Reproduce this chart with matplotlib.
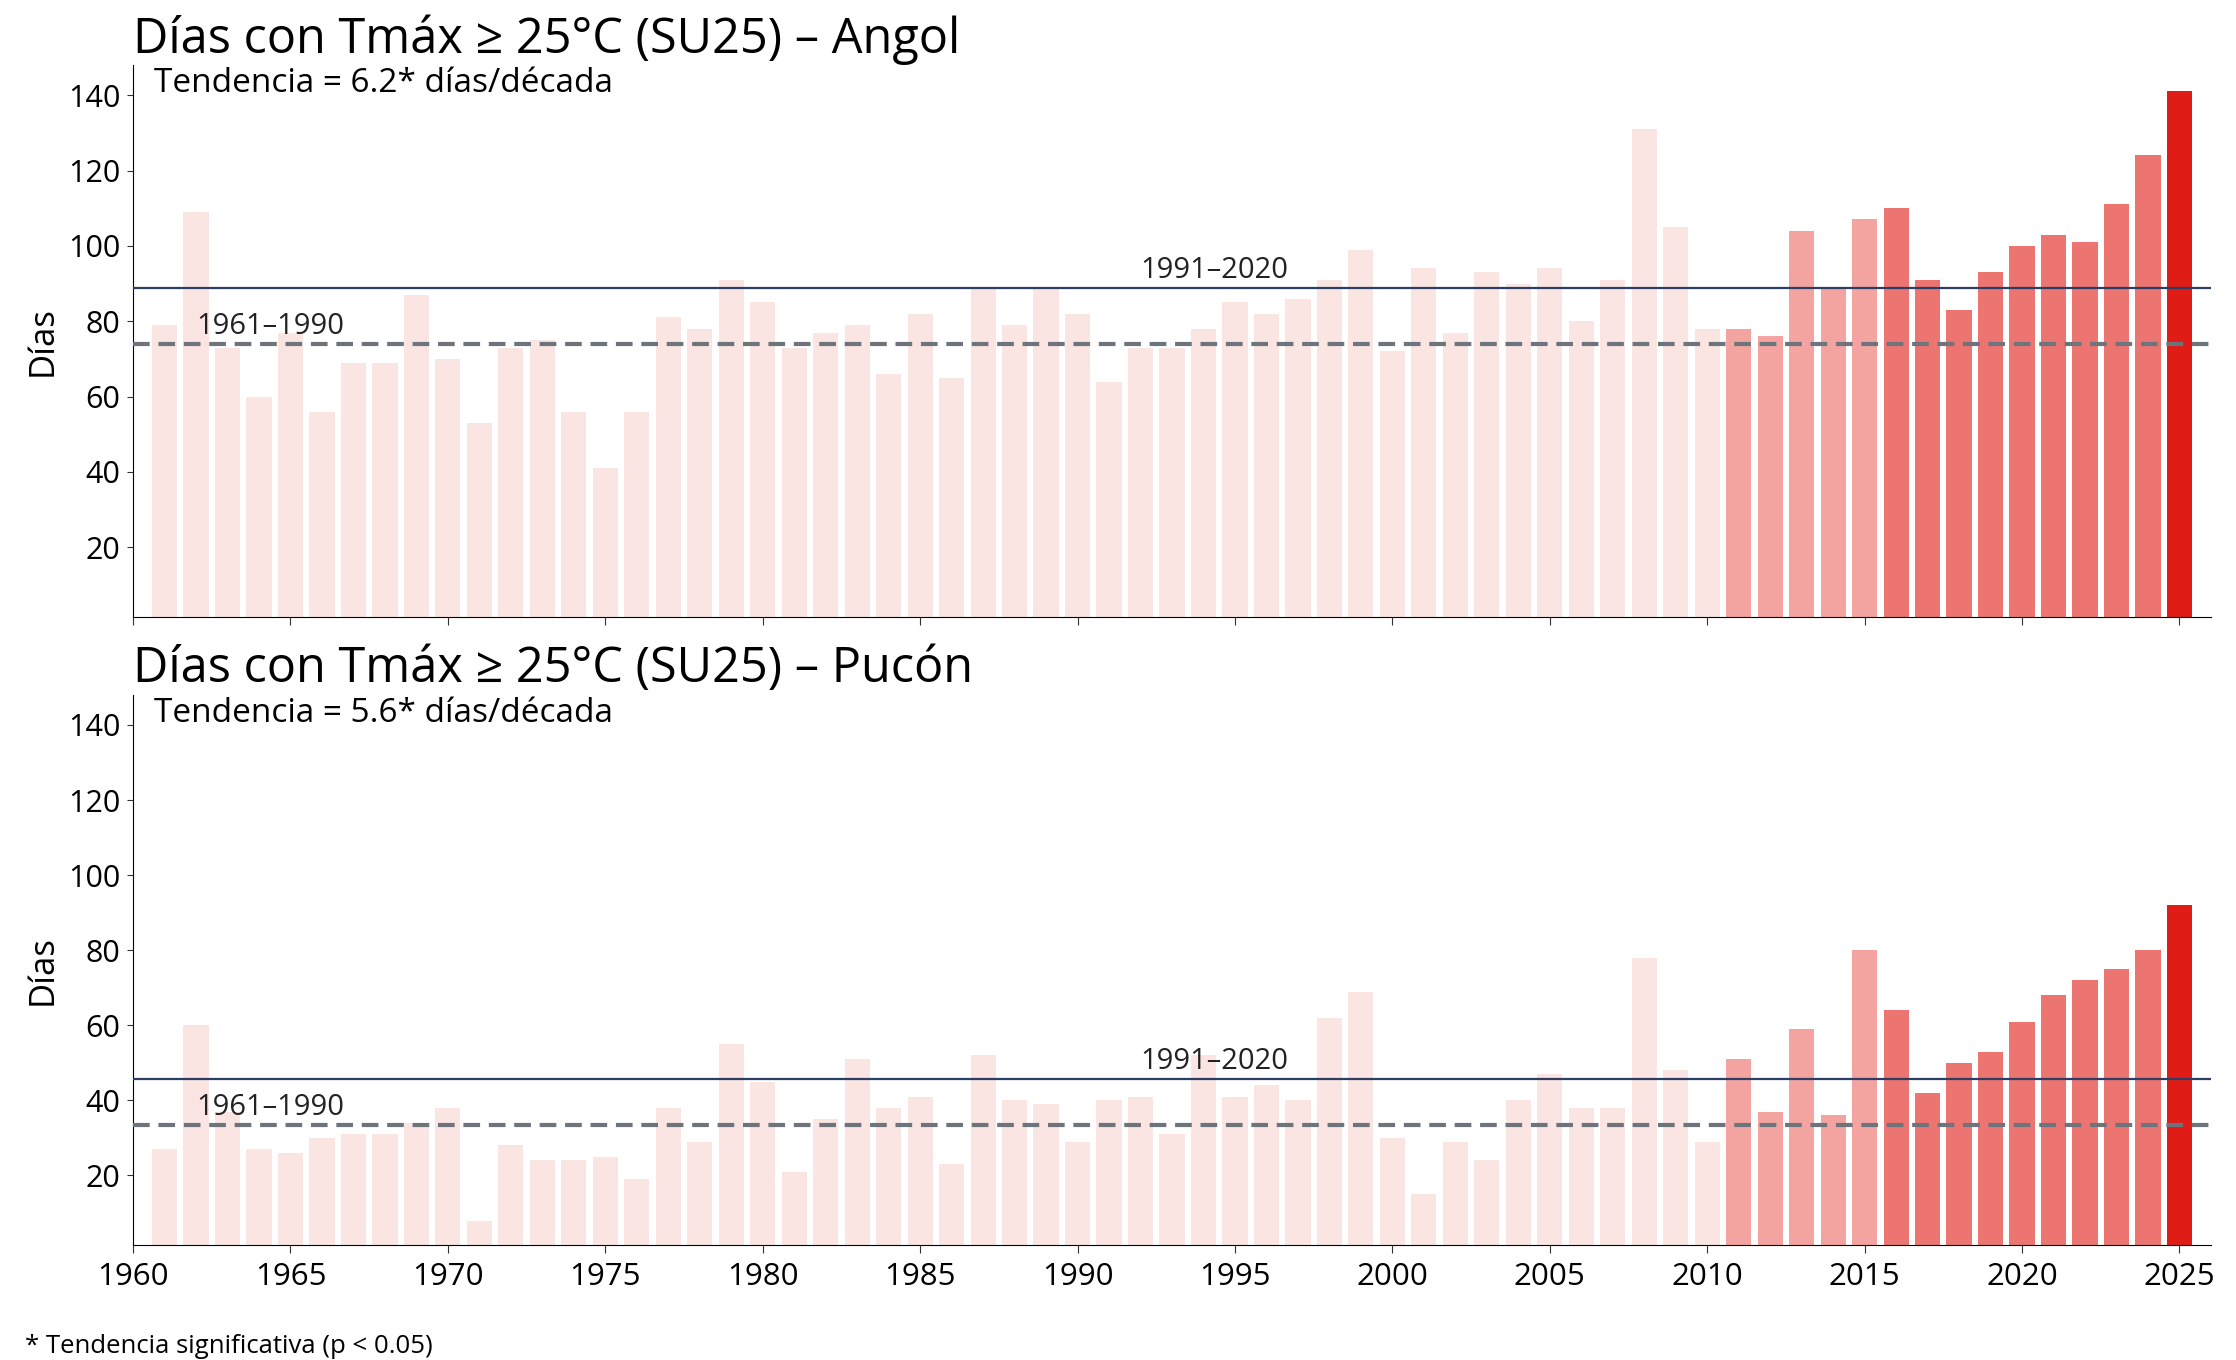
import numpy as np
import matplotlib.pyplot as plt

plt.rcParams['font.family'] = ['Open Sans', 'DejaVu Sans']

# Years and SU25 counts (days with Tmax >= 25 °C)
years = np.arange(1961, 2026)

angol = [79, 109, 73, 60, 77, 56, 69, 69, 87, 70,
         53, 73, 75, 56, 41, 56, 81, 78, 91, 85,
         73, 77, 79, 66, 82, 65, 89, 79, 89, 82,
         64, 73, 73, 78, 85, 82, 86, 91, 99, 72,
         94, 77, 93, 90, 94, 80, 91, 131, 105, 78,
         78, 76, 104, 89, 107, 110, 91, 83, 93, 100,
         103, 101, 111, 124, 141]

pucon = [27, 60, 37, 27, 26, 30, 31, 31, 34, 38,
         8, 28, 24, 24, 25, 19, 38, 29, 55, 45,
         21, 35, 51, 38, 41, 23, 52, 40, 39, 29,
         40, 41, 31, 52, 41, 44, 40, 62, 69, 30,
         15, 29, 24, 40, 47, 38, 38, 78, 48, 29,
         51, 37, 59, 36, 80, 64, 42, 50, 53, 61,
         68, 72, 75, 80, 92]

stations = ["Angol", "Pucón"]
trends = ["6.2*", "5.6*"]


def bar_color(y):
    if y <= 2010:
        return '#fae5e2'
    if y <= 2015:
        return '#f3a4a0'
    if y <= 2024:
        return '#ec7571'
    return '#e01c17'


colors = [bar_color(y) for y in years]

fig = plt.figure(figsize=(22.36, 13.6), dpi=100)
ax1 = fig.add_axes([0.0595, 0.5463, 0.9293, 0.4059])
ax2 = fig.add_axes([0.0595, 0.0846, 0.9293, 0.4044])

for ax, vals, name, tr in zip([ax1, ax2], [angol, pucon], stations, trends):
    vals = np.array(vals)
    ax.bar(years, vals, width=0.8, color=colors, zorder=1)

    base_old = vals[(years >= 1961) & (years <= 1990)].mean()
    base_new = vals[(years >= 1991) & (years <= 2020)].mean()
    ax.axhline(base_new, color='#2c3e63', lw=1.6, zorder=3)
    ax.axhline(base_old, color='#6d747c', lw=3, ls=(0, (4, 2.1)), zorder=3)
    ax.text(1962, base_old + 0.8, "1961–1990", fontsize=21, color='#222222',
            ha='left', va='bottom', zorder=4)
    ax.text(1992, base_new + 0.8, "1991–2020", fontsize=21, color='#222222',
            ha='left', va='bottom', zorder=4)

    ax.set_xlim(1960, 2026)
    ax.set_ylim(1.5, 148)
    ax.set_yticks(np.arange(20, 141, 20))
    ax.set_xticks(np.arange(1960, 2026, 5))
    ax.spines['top'].set_visible(False)
    ax.spines['right'].set_visible(False)
    ax.tick_params(axis='y', labelsize=22, length=4, pad=5, color='#333333')
    ax.tick_params(axis='x', labelsize=22.5, length=6, pad=6, color='#333333')
    ax.set_ylabel("Días", fontsize=25, labelpad=6)
    ax.set_title(f"Días con Tmáx ≥ 25°C (SU25) – {name}", loc='left',
                 fontsize=35, pad=9)
    ax.text(0.01, 0.996, f"Tendencia = {tr} días/década", transform=ax.transAxes,
            fontsize=24, ha='left', va='top')

ax1.tick_params(axis='x', labelbottom=False)

fig.text(0.011, 0.001, "* Tendencia significativa (p < 0.05)", fontsize=18.5,
         ha='left', va='bottom')

fig.savefig("out.png", dpi=100)
